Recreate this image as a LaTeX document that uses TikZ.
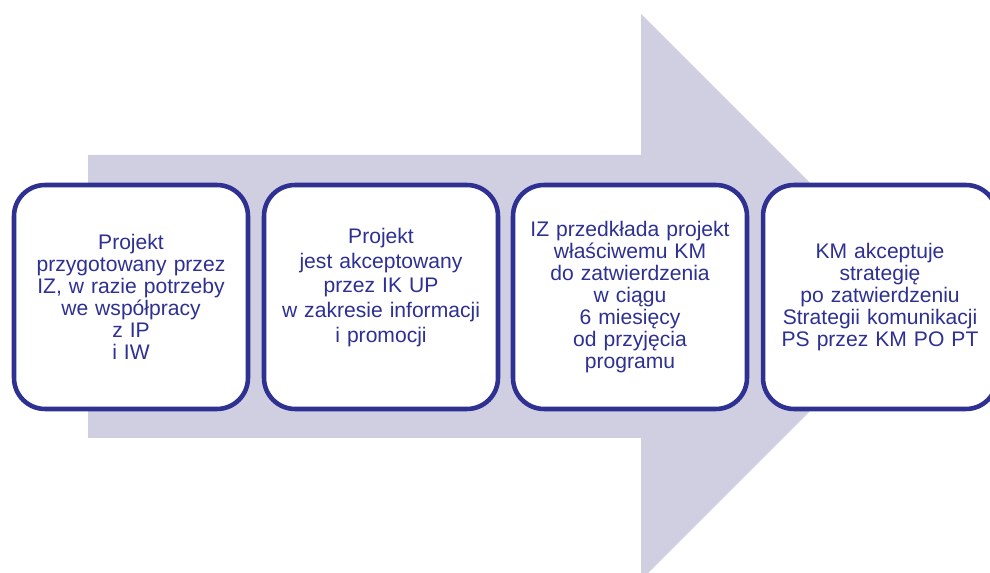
\documentclass[tikz,border=0pt]{standalone}
\usepackage{fontspec}
\setmainfont{Liberation Sans}
\usepackage{tikz}
\usetikzlibrary{shapes,calc}
\definecolor{arrowgrey}{HTML}{CFCFE1}
\definecolor{boxblue}{HTML}{2E3092}
\tikzset{
  stepbox/.style={draw=boxblue, line width=2.6pt, fill=white, rounded corners=0.62cm,
    minimum width=4.68cm, minimum height=4.48cm, text width=4.4cm, align=center,
    text=boxblue, font=\fontsize{12}{12.6}\selectfont}
}

\begin{document}
\begin{tikzpicture}[x=0.02cm, y=-0.02cm]
\useasboundingbox (0,0) rectangle (990,573);
\clip (0,0) rectangle (990,573);

\fill [arrowgrey] (88,155) -- (641,155) -- (641,14) -- (924,297) -- (641,580) -- (641,438) -- (88,438) -- cycle;

\node [stepbox] (box1) at (131,297) {Projekt\\przygotowany przez\\IZ, w razie potrzeby\\we współpracy\\z IP\\i IW};
\node [stepbox, font=\fontsize{12}{14}\selectfont, text depth=2.44cm] (box2) at (381,297) {Projekt\\jest akceptowany\\przez IK UP\\w zakresie informacji\\i promocji};
\node [stepbox] (box3) at (630,297) {IZ przedkłada projekt\\właściwemu KM\\do zatwierdzenia\\w ciągu\\6 miesięcy\\od przyjęcia\\programu};
\node [stepbox] (box4) at (880,297) {KM akceptuje\\strategię\\po zatwierdzeniu\\Strategii komunikacji\\PS przez KM PO PT};

\end{tikzpicture}
\end{document}
